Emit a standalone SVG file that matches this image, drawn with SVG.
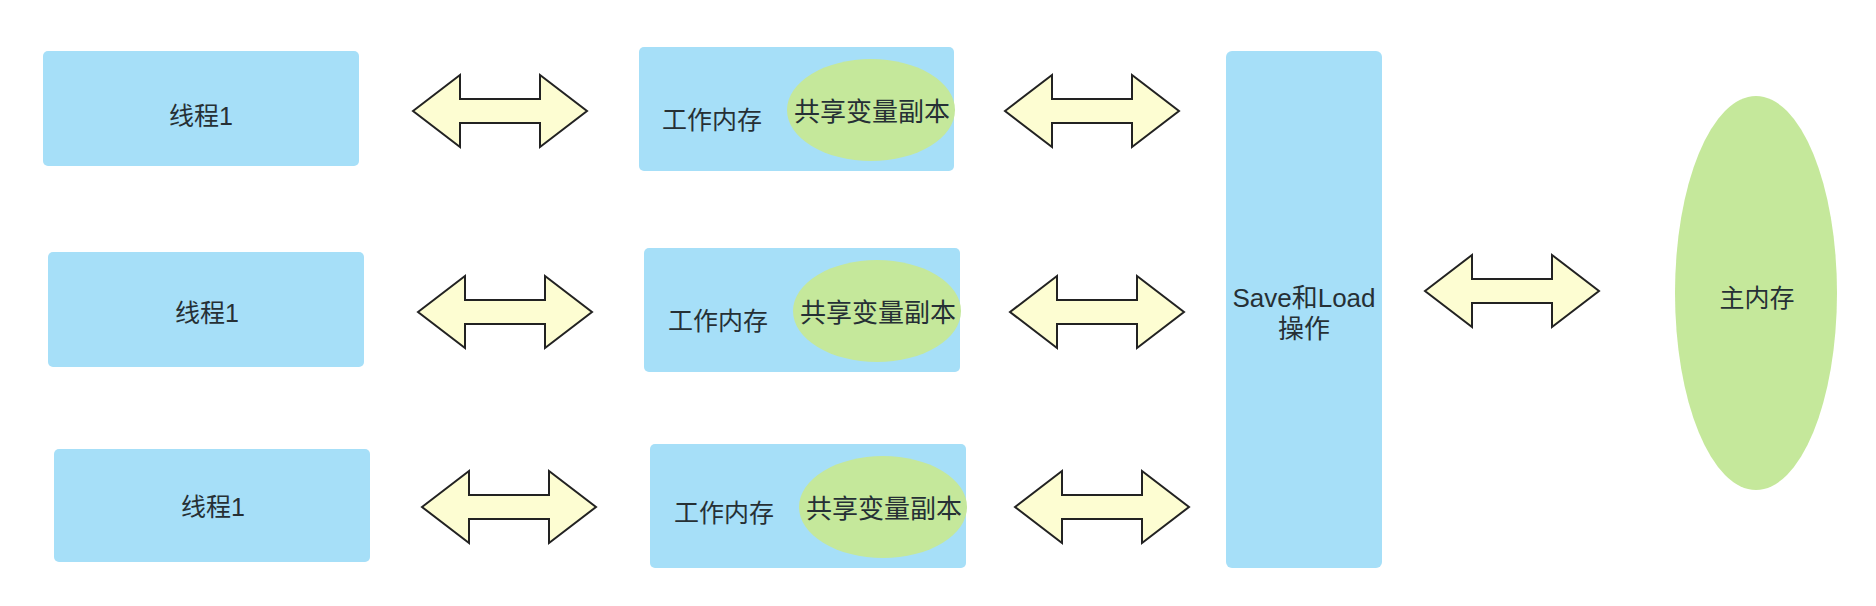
<svg xmlns="http://www.w3.org/2000/svg" xmlns:xlink="http://www.w3.org/1999/xlink" width="1876" height="606" viewBox="0 0 1876 606">
<style>
.box{fill:#a6dff8;}
.ell{fill:#c5e89b;}
.arr{fill:#fdfdd2;stroke:#222;stroke-width:2;stroke-linejoin:miter;}
.t{font-family:"Liberation Sans","Noto Sans CJK SC",sans-serif;font-size:25px;fill:#263035;text-anchor:middle;dominant-baseline:central;}
.t2{font-size:26px;}
</style>
<defs>
<path id="dbl" d="M0,36 L47,0 L47,24 L127,24 L127,0 L174,36 L127,72 L127,48 L47,48 L47,72 Z"/>
</defs>
<rect width="1876" height="606" fill="#ffffff"/>
<g id="connectors">
<use xlink:href="#dbl" class="arr" x="413" y="75"/>
<use xlink:href="#dbl" class="arr" x="418" y="276"/>
<use xlink:href="#dbl" class="arr" x="422" y="471"/>
<use xlink:href="#dbl" class="arr" x="1005" y="75"/>
<use xlink:href="#dbl" class="arr" x="1010" y="276"/>
<use xlink:href="#dbl" class="arr" x="1015" y="471"/>
<use xlink:href="#dbl" class="arr" x="1425" y="255"/>
</g>
<g id="thread1">
<rect class="box" x="43" y="51" width="316" height="115" rx="5"/>
<text class="t" x="201" y="116">线程1</text>
</g>
<g id="thread2">
<rect class="box" x="48" y="252" width="316" height="115" rx="5"/>
<text class="t" x="207" y="313">线程1</text>
</g>
<g id="thread3">
<rect class="box" x="54" y="449" width="316" height="113" rx="5"/>
<text class="t" x="213" y="507">线程1</text>
</g>
<g id="work1">
<rect class="box" x="639" y="47" width="315" height="124" rx="5"/>
<ellipse class="ell" cx="871" cy="110" rx="84" ry="51"/>
<text class="t" x="712" y="120">工作内存</text>
<text class="t t2" x="872" y="112">共享变量副本</text>
</g>
<g id="work2">
<rect class="box" x="644" y="248" width="316" height="124" rx="5"/>
<ellipse class="ell" cx="877" cy="311" rx="84" ry="51"/>
<text class="t" x="718" y="321">工作内存</text>
<text class="t t2" x="878" y="313">共享变量副本</text>
</g>
<g id="work3">
<rect class="box" x="650" y="444" width="316" height="124" rx="5"/>
<ellipse class="ell" cx="883" cy="507" rx="84" ry="51"/>
<text class="t" x="724" y="513">工作内存</text>
<text class="t t2" x="884" y="509">共享变量副本</text>
</g>
<g id="saveload">
<rect class="box" x="1226" y="51" width="156" height="517" rx="6"/>
<text class="t t2" x="1304" y="298">Save和Load</text>
<text class="t t2" x="1304" y="329">操作</text>
</g>
<g id="mainmem">
<ellipse class="ell" cx="1756" cy="293" rx="81" ry="197"/>
<text class="t" x="1757" y="298">主内存</text>
</g>
</svg>
